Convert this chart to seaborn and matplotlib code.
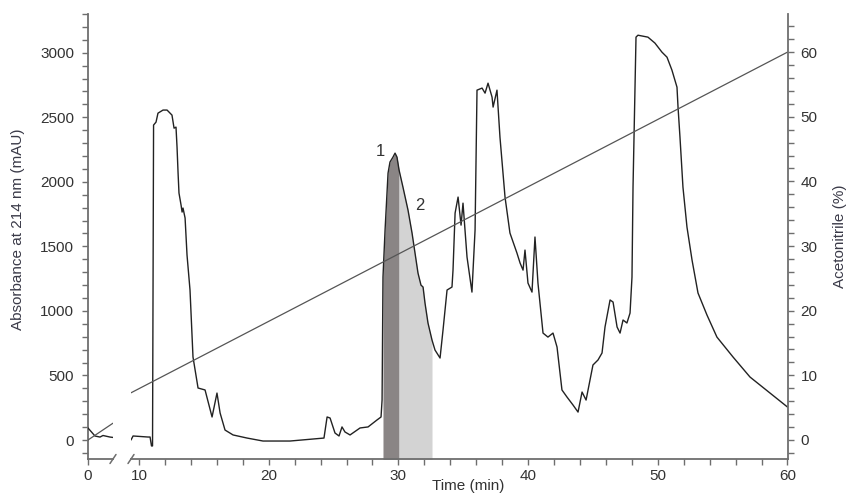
import numpy as np
import pandas as pd
import matplotlib
matplotlib.use("Agg")
import matplotlib.pyplot as plt
import seaborn as sns

# ---- data ----
time_pre = [0.0, 0.3, 0.56, 0.96, 1.2, 1.76, 2.0]
abs_pre = [93, 60, 31, 23, 35, 23, 20]

time_main = [9.38, 9.54, 10.69, 10.85, 10.96, 11.04, 11.12, 11.31, 11.46, 11.85,
             12.16, 12.54, 12.70, 12.85, 12.93, 13.01, 13.08, 13.24, 13.32, 13.39,
             13.55, 13.70, 13.93, 14.16, 14.55, 15.09, 15.63, 16.01, 16.25, 16.63,
             17.25, 18.33, 19.56, 21.64, 24.26, 24.50, 24.73, 25.11, 25.42, 25.65,
             25.88, 26.27, 27.04, 27.66, 28.35, 28.66, 28.74, 28.81, 28.97, 29.20,
             29.35, 29.58, 29.74, 29.89, 30.05, 30.35, 30.74, 31.05, 31.28, 31.51,
             31.74, 31.90, 32.05, 32.28, 32.59, 32.82, 33.21, 33.44, 33.75, 34.13,
             34.21, 34.37, 34.60, 34.83, 34.98, 35.29, 35.67, 35.91, 36.06, 36.45,
             36.68, 36.91, 37.22, 37.30, 37.60, 37.83, 38.22, 38.60, 39.14, 39.38,
             39.61, 39.76, 39.99, 40.30, 40.53, 40.76, 41.15, 41.53, 41.92, 42.23,
             42.61, 43.00, 43.46, 43.85, 44.16, 44.47, 45.00, 45.39, 45.70, 45.93,
             46.32, 46.55, 46.86, 47.09, 47.32, 47.62, 47.86, 48.01, 48.09, 48.24,
             48.32, 48.47, 49.24, 49.78, 50.32, 50.71, 51.09, 51.48, 51.56, 51.71,
             51.94, 52.25, 52.64, 53.10, 53.79, 54.56, 55.80, 57.11, 58.65, 60.0]
abs_main = [0, 31, 23, 23, -46, -46, 2436, 2459, 2528, 2552,
            2552, 2513, 2412, 2420, 2265, 2064, 1910, 1817, 1763, 1794,
            1717, 1430, 1160, 642, 402, 387, 178, 363, 209, 77,
            39, 15, -8, -8, 15, 178, 170, 54, 31, 101,
            62, 39, 93, 101, 155, 178, 309, 1260, 1624, 2064,
            2150, 2188, 2219, 2188, 2088, 1956, 1778, 1601, 1446, 1291,
            1198, 1183, 1059, 905, 773, 696, 634, 851, 1160, 1183,
            1314, 1755, 1879, 1662, 1832, 1415, 1144, 1624, 2706, 2722,
            2683, 2760, 2652, 2575, 2706, 2343, 1879, 1601, 1446, 1369,
            1314, 1469, 1214, 1144, 1570, 1214, 827, 796, 827, 719,
            387, 332, 271, 216, 371, 309, 580, 619, 673, 874,
            1083, 1067, 874, 827, 928, 905, 982, 1260, 1956, 2729,
            3116, 3131, 3116, 3070, 3000, 2961, 2861, 2729, 2575, 2343,
            1956, 1647, 1392, 1137, 967, 796, 642, 487, 363, 255]

grad_pre_t = [0.0, 2.0]
grad_pre = [0.0, 2.6]
grad_t = [9.38, 60.0]
grad = [7.3, 60.0]

fraction_labels = ["1", "2"]
fraction_start = [28.81, 30.05]
fraction_end = [30.05, 32.59]
fraction_colors = ["#8a8585", "#d3d3d3"]
label_t = [28.6, 31.65]
label_abs = [2230, 1810]

x_ticks = [10, 20, 30, 40, 50, 60]
y_ticks = [0, 500, 1000, 1500, 2000, 2500, 3000]
y2_ticks = [0, 10, 20, 30, 40, 50, 60]

# ---- style ----
sns.set_theme(style="ticks")
plt.rcParams["font.family"] = ["Liberation Sans", "DejaVu Sans"]
TXT = "#333333"
SPINE = "#6e6e6e"

W, H = 848, 493
fig = plt.figure(figsize=(W / 100, H / 100), dpi=100)
bot = (H - 459) / H
hgt = (459 - 14) / H
ax1 = fig.add_axes([88 / W, bot, (113 - 88) / W, hgt])
ax2 = fig.add_axes([131 / W, bot, (788 - 131) / W, hgt])
ax1r = ax1.twinx()
ax2r = ax2.twinx()

YL = (-147, 3295)
YR = (YL[0] / 50, YL[1] / 50)

df_pre = pd.DataFrame({"t": time_pre, "a": abs_pre})
df_main = pd.DataFrame({"t": time_main, "a": abs_main})

# fractions (shaded)
t_arr = np.array(time_main)
a_arr = np.array(abs_main)
for s, e, c in zip(fraction_start, fraction_end, fraction_colors):
    m = (t_arr >= s) & (t_arr <= e)
    ax2.fill_between(t_arr[m], -1000, a_arr[m], color=c, linewidth=0, zorder=1)

sns.lineplot(data=df_pre, x="t", y="a", ax=ax1, color="#222222", linewidth=1.0,
             sort=False, estimator=None, zorder=3)
sns.lineplot(data=df_main, x="t", y="a", ax=ax2, color="#222222", linewidth=1.0,
             sort=False, estimator=None, zorder=3)
sns.lineplot(x=grad_pre_t, y=grad_pre, ax=ax1r, color="#555555", linewidth=0.9,
             sort=False, estimator=None)
sns.lineplot(x=grad_t, y=grad, ax=ax2r, color="#555555", linewidth=0.9,
             sort=False, estimator=None)

ax1.set_xlim(0, 2.0)
ax2.set_xlim(9.38, 60.04)
for a in (ax1, ax2):
    a.set_ylim(*YL)
for a in (ax1r, ax2r):
    a.set_ylim(*YR)

for a in (ax1, ax2, ax1r, ax2r):
    a.set_xlabel("")
    a.set_ylabel("")
    a.patch.set_alpha(0)
    for sp in a.spines.values():
        sp.set_visible(False)

# ax1: left spine + bottom
ax1.spines["left"].set_visible(True)
ax1.spines["bottom"].set_visible(True)
ax1.set_yticks(y_ticks)
ax1.set_yticks(np.arange(-100, 3301, 100), minor=True)
ax1.set_xticks([0])
ax1.set_xticklabels(["0"])
ax1r.tick_params(axis="both", which="both", left=False, right=False, bottom=False,
                 labelleft=False, labelright=False, labelbottom=False)

# ax2: bottom only, right axis via twin
ax2.spines["bottom"].set_visible(True)
ax2.set_yticks([])
ax2.set_xticks(x_ticks)
ax2.set_xticks(np.arange(10, 61, 2), minor=True)
ax2r.spines["right"].set_visible(True)
ax2r.set_yticks(y2_ticks)
ax2r.set_yticks(np.arange(-2, 66, 2), minor=True)
ax2r.tick_params(axis="x", which="both", bottom=False, labelbottom=False)

for a in (ax1, ax2, ax2r):
    for sp in a.spines.values():
        sp.set_color(SPINE)
        sp.set_linewidth(1.3)
    a.tick_params(which="both", direction="out", length=4, width=1,
                  color=SPINE, labelcolor=TXT, labelsize=11, pad=3)
ax1.tick_params(axis="y", pad=6)
ax2r.tick_params(axis="y", pad=5)

# break marks
d = 7
for x0 in (113, 131):
    fig.add_artist(plt.Line2D([(x0 - 3) / W, (x0 + 3) / W],
                              [(H - 459 - d / 2 - 1) / H, (H - 459 + d / 2 + 1) / H],
                              color=SPINE, linewidth=1.1))

# fraction labels
for lab, tx, ty in zip(fraction_labels, label_t, label_abs):
    ax2.text(tx, ty, lab, fontsize=12, color=TXT, ha="center", va="center", zorder=5)

fig.text(468 / W, 1 - 486 / H, "Time (min)", ha="center", va="center",
         fontsize=11, color=TXT)
fig.text(18 / W, 1 - 229 / H, "Absorbance at 214 nm (mAU)", rotation=90,
         ha="center", va="center", fontsize=11, color="#3a3a48")
fig.text(840 / W, 1 - 236 / H, "Acetonitrile (%)", rotation=90,
         ha="center", va="center", fontsize=11, color="#3a3a48")

fig.savefig("out.png", dpi=100)
